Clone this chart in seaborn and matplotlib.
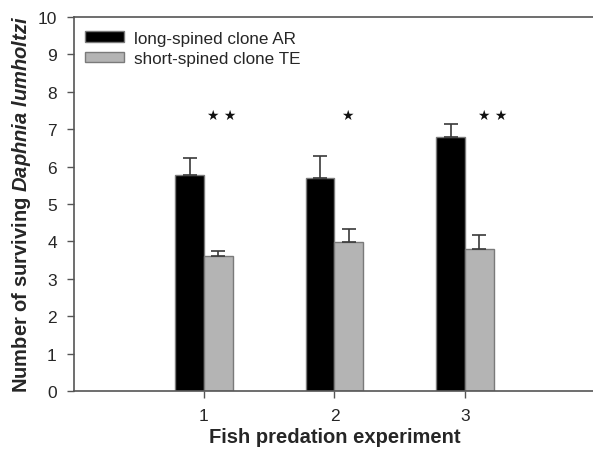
import numpy as np
import pandas as pd
import matplotlib
matplotlib.use('Agg')
import matplotlib.pyplot as plt
import seaborn as sns

# data
experiments = [1, 2, 3]
clones = ['long-spined clone AR', 'short-spined clone TE']
long_mean = [5.78, 5.70, 6.79]
long_se = [0.45, 0.58, 0.34]
short_mean = [3.60, 3.98, 3.79]
short_se = [0.13, 0.35, 0.37]
star_labels = ['\u2605 \u2605', '\u2605', '\u2605 \u2605']
star_x = [1.134, 2.096, 3.215]
star_y = [7.38, 7.38, 7.38]

sns.set_style("white")
plt.rcParams['font.family'] = ['Liberation Sans', 'DejaVu Sans']
plt.rcParams['mathtext.fontset'] = 'custom'
plt.rcParams['mathtext.it'] = 'Liberation Sans:italic:bold'
plt.rcParams['mathtext.rm'] = 'Liberation Sans:bold'

df = pd.DataFrame({
    'experiment': experiments * 2,
    'clone': [clones[0]] * 3 + [clones[1]] * 3,
    'survivors': long_mean + short_mean,
})
errs = {clones[0]: long_se, clones[1]: short_se}

fig = plt.figure(figsize=(5.93, 4.52), dpi=100)
ax = fig.add_axes([0.124, 0.133, 0.880, 0.827])

sns.barplot(data=df, x='experiment', y='survivors', hue='clone',
            native_scale=True, width=0.44, errorbar=None,
            palette=['#000000', '#b4b4b4'], edgecolor='#7a7a7a',
            linewidth=1.0, ax=ax)

# one-sided error bars (upper only)
for container, clone in zip(ax.containers, clones):
    for bar, e in zip(container, errs[clone]):
        xc = bar.get_x() + bar.get_width() / 2
        h = bar.get_height()
        ax.errorbar(xc, h, yerr=[[0], [e]], fmt='none', ecolor='#3a3a3a',
                    elinewidth=1.2, capsize=5, capthick=1.2, zorder=1)

for sx, sy, s in zip(star_x, star_y, star_labels):
    ax.text(sx, sy, s, ha='center', va='center', fontsize=10,
            family=['DejaVu Sans'], color='#111111')

ax.set_xlim(0, 4)
ax.set_ylim(0, 10)
ax.set_xticks(experiments)
ax.set_xticklabels([str(e) for e in experiments])
ax.set_yticks(range(0, 11))

ax.set_xlabel('Fish predation experiment', fontsize=14.5, fontweight='bold', labelpad=3)
ax.set_ylabel(r'Number of surviving $Daphnia\ lumholtzi$', fontsize=14.5,
              fontweight='bold')
ax.yaxis.set_label_coords(-0.078, 0.503)

ax.tick_params(axis='y', which='major', direction='out', length=5, width=1,
               color='#555555', labelsize=12.5, left=True, pad=7)
ax.tick_params(axis='x', which='major', direction='out', length=5, width=1,
               color='#555555', labelsize=12.5, bottom=True, pad=7)
for side in ['left', 'bottom', 'top']:
    ax.spines[side].set_color('#555555')
    ax.spines[side].set_linewidth(1.2)
ax.spines['right'].set_visible(False)

handles, labels = ax.get_legend_handles_labels()
ax.legend(handles, labels, loc='upper left', bbox_to_anchor=(0.022, 0.963),
          frameon=False, fontsize=12.3, handlelength=2.3, handleheight=0.6,
          labelspacing=0.3, borderaxespad=0, borderpad=0, handletextpad=0.55)

fig.savefig('out.png', dpi=100)
